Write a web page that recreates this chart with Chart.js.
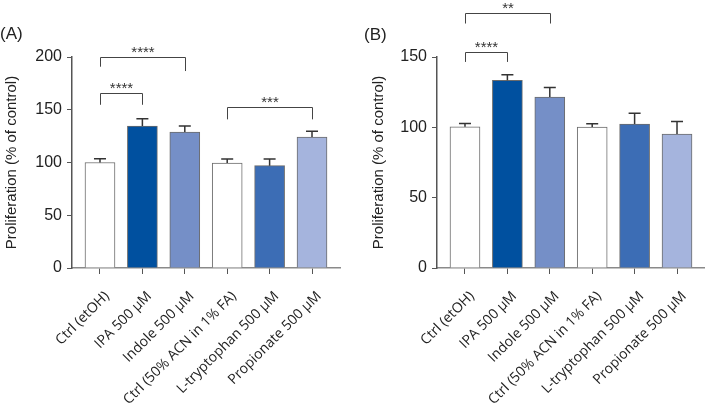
<!DOCTYPE html>
<html>
<head>
<meta charset="utf-8">
<script src="https://cdn.jsdelivr.net/npm/chart.js@4"></script>
<style>
  html, body { margin:0; padding:0; background:#fff; }
  #wrap { position:relative; width:705px; height:404px; overflow:hidden; }
  canvas { position:absolute; top:0; }
  .tag { position:absolute; font:17px "Liberation Sans", Arial, sans-serif; color:#222; }
</style>
</head>
<body>
<div id="wrap">
  <canvas id="chartA" width="352" height="404" style="left:0"></canvas>
  <canvas id="chartB" width="353" height="404" style="left:352px"></canvas>
  <div class="tag" style="left:0;top:24px">(A)</div>
  <div class="tag" style="left:364px;top:25px">(B)</div>
</div>
<script>
// categories and values (% of control)
const categories = ["Ctrl (etOH)", "IPA 500 µM", "Indole 500 µM", "Ctrl (50% ACN in 1% FA)", "L-tryptophan 500 µM", "Propionate 500 µM"];
const barColors = ["#ffffff", "#00509f", "#758fc7", "#ffffff", "#3c6db5", "#a5b4dd"];

const valuesA = [100, 134.6, 128.9, 99.5, 97, 124.2];
const errorsA = [3.5, 6.9, 5.7, 3.8, 6.3, 5.4];
const valuesB = [100.4, 133.5, 121.5, 100.2, 102.3, 95.2];
const errorsB = [2.4, 3.8, 6.9, 2.4, 7.8, 9.0];

// significance brackets: [from, to, line level, left end, right end, label]
const bracketsA = [
  [0, 2, 200.3, 190.8, 186.7, "****"],
  [0, 1, 165.6, 154.7, 154.7, "****"],
  [3, 5, 152.3, 140.9, 140.9, "***"]
];
const bracketsB = [
  [0, 2, 181.6, 173.8, 173.8, "**"],
  [0, 1, 153.6, 146.5, 146.5, "****"]
];

const errorBars = {
  id: "errorBars",
  afterDatasetsDraw(chart, args, opts) {
    const ctx = chart.ctx;
    const y = chart.scales.y;
    const meta = chart.getDatasetMeta(0);
    ctx.save();
    ctx.strokeStyle = "#333";
    ctx.lineWidth = 1.5;
    meta.data.forEach((bar, i) => {
      const top = y.getPixelForValue(opts.values[i] + opts.errors[i]);
      ctx.beginPath();
      ctx.moveTo(bar.x, bar.y);
      ctx.lineTo(bar.x, top);
      ctx.moveTo(bar.x - 6, top);
      ctx.lineTo(bar.x + 6, top);
      ctx.stroke();
    });
    ctx.restore();
  }
};

const brackets = {
  id: "brackets",
  afterDraw(chart, args, opts) {
    const ctx = chart.ctx;
    const x = chart.scales.x, y = chart.scales.y;
    ctx.save();
    ctx.strokeStyle = "#444";
    ctx.lineWidth = 1;
    ctx.fillStyle = "#333";
    ctx.font = "15px 'Liberation Sans', Arial, sans-serif";
    ctx.textAlign = "center";
    ctx.textBaseline = "bottom";
    opts.items.forEach(b => {
      const x1 = Math.round(x.getPixelForValue(b[0])) + 0.5;
      const x2 = Math.round(x.getPixelForValue(b[1])) + 0.5;
      const yl = Math.round(y.getPixelForValue(b[2])) + 0.5;
      ctx.beginPath();
      ctx.moveTo(x1, y.getPixelForValue(b[3]));
      ctx.lineTo(x1, yl);
      ctx.lineTo(x2, yl);
      ctx.lineTo(x2, y.getPixelForValue(b[4]));
      ctx.stroke();
      ctx.fillText(b[5], (x1 + x2) / 2, yl + 3);
    });
    ctx.restore();
  }
};

function makeChart(id, values, errors, items, yMax, yWidth, padRight, titlePad) {
  return new Chart(document.getElementById(id), {
    type: "bar",
    data: {
      datasets: [{
        data: values.map((v, i) => ({ x: i, y: v })),
        backgroundColor: barColors,
        borderColor: "#6b6b6b",
        borderWidth: 1,
        barThickness: 30
      }]
    },
    plugins: [errorBars, brackets],
    options: {
      responsive: false,
      animation: false,
      layout: { padding: { top: 57, right: padRight, left: 0, bottom: 0 } },
      plugins: {
        legend: { display: false },
        tooltip: { enabled: false },
        errorBars: { values, errors },
        brackets: { items }
      },
      scales: {
        x: {
          type: "linear",
          min: -0.66, max: 5.66,
          offset: false,
          afterBuildTicks: s => { s.ticks = categories.map((c, i) => ({ value: i })); },
          afterFit: s => { s.height = 136; },
          grid: { display: true, drawOnChartArea: false, offset: false, tickLength: 6, color: "#555" },
          border: { color: "#8a8a8a", width: 1.5 },
          ticks: {
            autoSkip: false, minRotation: 45, maxRotation: 45, padding: 14, labelOffset: 7,
            color: "#222",
            font: { family: "'Open Sans', 'Noto Sans', sans-serif", size: 14 },
            callback: v => categories[v]
          }
        },
        y: {
          min: 0, max: yMax,
          afterFit: s => { s.width = yWidth; },
          grid: { drawOnChartArea: false, tickLength: 5, color: "#555" },
          border: { color: "#555", width: 1.5 },
          ticks: {
            stepSize: 50, padding: 5, color: "#222",
            font: { family: "'Liberation Sans', Arial, sans-serif", size: 16 }
          },
          title: {
            display: true,
            text: "Proliferation (% of control)",
            color: "#222",
            padding: { top: titlePad, bottom: 0 },
            font: { family: "'Liberation Sans', Arial, sans-serif", size: 15 }
          }
        }
      }
    }
  });
}

makeChart("chartA", valuesA, errorsA, bracketsA, 200, 72, 12, 3);
makeChart("chartB", valuesB, errorsB, bracketsB, 150, 85, 0, 18);
</script>
</body>
</html>
